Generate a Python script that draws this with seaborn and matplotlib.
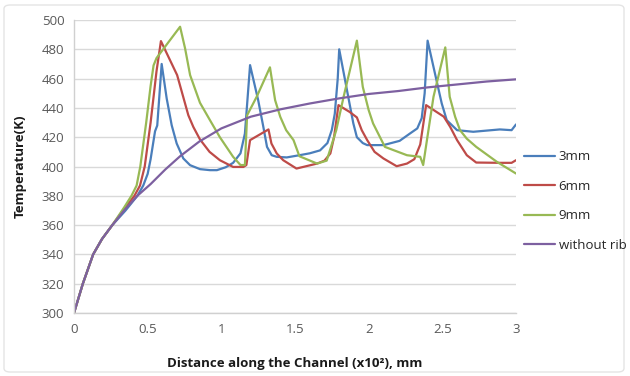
import matplotlib
matplotlib.use("Agg")
import matplotlib.pyplot as plt
import seaborn as sns
import pandas as pd
from matplotlib.patches import FancyBboxPatch

# Temperature profiles along the channel for each rib pitch
x_3mm = [0, 0.06, 0.13, 0.19, 0.26, 0.35, 0.43, 0.47, 0.50, 0.52, 0.55, 0.565, 0.595, 0.629,
         0.663, 0.697, 0.742, 0.788, 0.855, 0.923, 0.97, 1.03, 1.08, 1.13, 1.16, 1.195, 1.25,
         1.285, 1.31, 1.342, 1.376, 1.444, 1.53, 1.60, 1.67, 1.72, 1.75, 1.77, 1.79, 1.80,
         1.87, 1.896, 1.92, 1.96, 1.99, 2.10, 2.21, 2.28, 2.33, 2.36, 2.38, 2.40, 2.46, 2.496,
         2.53, 2.60, 2.71, 2.89, 2.97, 3.0]
t_3mm = [300, 320, 340, 350.5, 360, 370, 380, 387, 395, 405, 424, 428, 470, 446.5,
         428.2, 415.7, 405.5, 400.9, 398.2, 397.5, 397.5, 399.5, 402.5, 409, 422.5, 469.2, 445.3,
         427.1, 413.4, 407.7, 406.6, 406.2, 407.7, 409, 411, 416, 425, 436, 460, 480,
         443, 429.4, 420, 416, 414.6, 414.6, 417.5, 422.5, 426, 433, 450, 485.9, 459, 443,
         431.6, 424.8, 423.7, 425.3, 424.8, 428.7]

x_6mm = [0, 0.06, 0.13, 0.19, 0.26, 0.34, 0.41, 0.448, 0.48, 0.52, 0.56, 0.59, 0.70, 0.776,
         0.81, 0.855, 0.92, 0.99, 1.08, 1.15, 1.17, 1.195, 1.32, 1.34, 1.376, 1.42, 1.51, 1.65,
         1.70, 1.74, 1.765, 1.795, 1.87, 1.92, 1.953, 1.99, 2.04, 2.10, 2.19, 2.26, 2.31, 2.35,
         2.39, 2.51, 2.553, 2.60, 2.666, 2.73, 2.89, 2.97, 3.0]
t_6mm = [300, 320, 340, 350.5, 360, 371, 380, 387, 400, 430, 465, 485.6, 462.4, 435,
         427, 418.5, 410, 404.3, 399.7, 399.7, 401, 418, 425.3, 415.7, 408.9, 404.3, 398.6, 402,
         404, 408.9, 420, 441.9, 437.3, 433.5, 424.8, 418, 410, 405.5, 400.2, 402, 405, 415,
         441.9, 434, 427.1, 418, 407.7, 402.7, 402.5, 402.5, 404.3]

x_9mm = [0, 0.06, 0.13, 0.19, 0.26, 0.34, 0.39, 0.425, 0.45, 0.49, 0.52, 0.54, 0.56, 0.72,
         0.754, 0.788, 0.855, 0.923, 0.99, 1.08, 1.13, 1.16, 1.175, 1.24, 1.33, 1.365, 1.40,
         1.44, 1.49, 1.53, 1.65, 1.715, 1.78, 1.83, 1.92, 1.96, 2.0, 2.03, 2.11, 2.26, 2.35,
         2.37, 2.44, 2.52, 2.55, 2.587, 2.62, 2.666, 2.73, 2.87, 3.0]
t_9mm = [300, 320, 340, 350.5, 360, 372, 380, 387, 400, 430, 455, 469, 474, 495.4,
         480.6, 462.4, 443.5, 431.6, 420, 406.6, 401, 401, 435, 447.6, 467.7, 445.3, 433.9,
         424.8, 418, 407, 402, 404, 424.8, 447.6, 485.9, 454.4, 438.5, 429.4, 413.4, 407.7, 406.6,
         401, 447.6, 481.3, 447.6, 433.9, 424.8, 419, 413.4, 403.2, 395.2]

x_norib = [0, 0.06, 0.13, 0.19, 0.26, 0.34, 0.43, 0.52, 0.62, 0.72, 0.85, 1.0, 1.2, 1.4, 1.6,
           1.8, 2.0, 2.2, 2.4, 2.6, 2.8, 3.0]
t_norib = [300, 320, 340, 350.5, 360, 370, 380, 388, 398, 407, 417, 426, 434, 439, 443,
           446.5, 449.5, 451.5, 454, 456, 458, 459.5]

series_names = ["3mm", "6mm", "9mm", "without rib"]
series_colors = ["#4a7ebb", "#be4b48", "#98b954", "#7d60a0"]
x_ticks = [0, 0.5, 1, 1.5, 2, 2.5, 3]
x_tick_labels = ["0", "0.5", "1", "1.5", "2", "2.5", "3"]
y_ticks = list(range(300, 501, 20))

frames = []
for name, xs, ts in zip(series_names,
                        [x_3mm, x_6mm, x_9mm, x_norib],
                        [t_3mm, t_6mm, t_9mm, t_norib]):
    frames.append(pd.DataFrame({"distance": xs, "temperature": ts, "series": name}))
data = pd.concat(frames, ignore_index=True)

sns.set_theme(style="white")
plt.rcParams["font.family"] = ["Open Sans", "DejaVu Sans"]

fig = plt.figure(figsize=(6.3, 3.76), dpi=100)
ax = fig.add_axes([74 / 630, 1 - 313 / 376, (516 - 74) / 630, (313 - 20) / 376])

# faint chart frame
frame = FancyBboxPatch((4 / 630, 4 / 376), 620 / 630, 367 / 376,
                       boxstyle="round,pad=0,rounding_size=0.01",
                       transform=fig.transFigure, fill=False,
                       edgecolor="#e4e4e4", linewidth=1.0, zorder=-5)
fig.patches.append(frame)

sns.lineplot(data=data, x="distance", y="temperature", hue="series",
             hue_order=series_names, palette=series_colors, sort=False,
             estimator=None, units="series", linewidth=1.6, ax=ax, legend=False)
for line in ax.get_lines():
    line.set_solid_joinstyle("round")

ax.set_xlim(0, 3)
ax.set_ylim(300, 500)
ax.set_xticks(x_ticks)
ax.set_xticklabels(x_tick_labels)
ax.set_yticks(y_ticks)
ax.tick_params(axis="both", length=0, labelsize=9.5, labelcolor="#595959", pad=7)
ax.yaxis.grid(True, color="#d9d9d9", linewidth=1.0)
ax.xaxis.grid(False)
ax.set_axisbelow(True)
for side in ["top", "right"]:
    ax.spines[side].set_visible(False)
for side in ["left", "bottom"]:
    ax.spines[side].set_color("#d0d0d0")
    ax.spines[side].set_linewidth(1.0)

ax.set_xlabel("Distance along the Channel (x10²), mm", fontsize=9.5,
              fontweight="bold", color="#1a1a1a", labelpad=15)
ax.set_ylabel("Temperature(K)", fontsize=9.5, fontweight="bold",
              color="#1a1a1a", labelpad=11)

handles = [plt.Line2D([], [], color=c, linewidth=1.6) for c in series_colors]
fig.legend(handles, series_names, loc="upper left",
           bbox_to_anchor=(519 / 630, 1 - 145 / 376), frameon=False,
           fontsize=9.5, handlelength=2.3, handletextpad=0.3,
           labelspacing=1.25, borderaxespad=0)

fig.savefig("out.png", dpi=100)
